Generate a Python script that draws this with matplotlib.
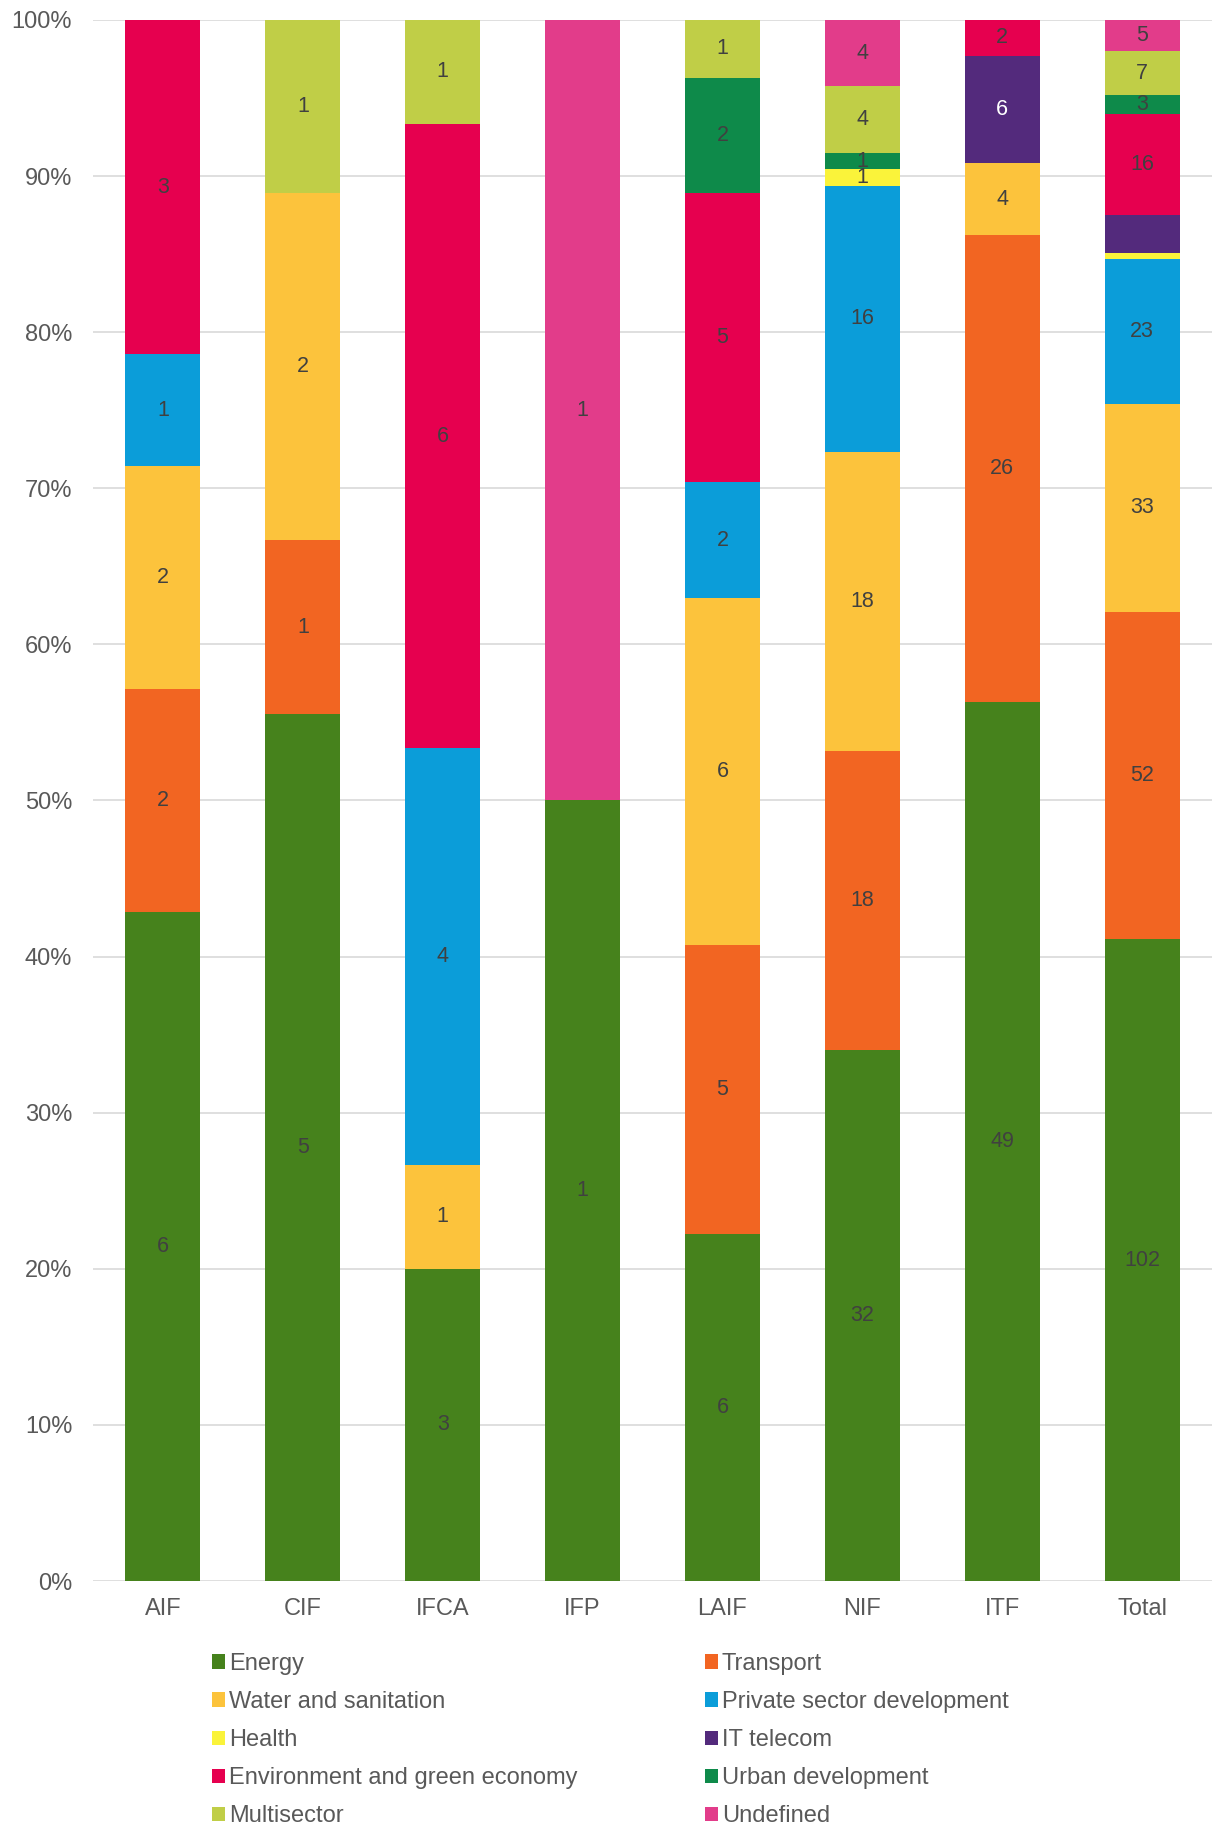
import numpy as np
import matplotlib.pyplot as plt
from matplotlib.patches import Patch

plt.rcParams['font.family'] = ['Liberation Sans', 'DejaVu Sans']

# ========== Data ==========
funds = ["AIF", "CIF", "IFCA", "IFP", "LAIF", "NIF", "ITF", "Total"]
sectors = ["Energy", "Transport", "Water and sanitation", "Private sector development",
           "Health", "IT telecom", "Environment and green economy", "Urban development",
           "Multisector", "Undefined"]
colors = ["#46821C", "#F26522", "#FCC33C", "#0B9DD9", "#FAF33A",
          "#532A7C", "#E6004F", "#0E8A4A", "#C0CE47", "#E23C8A"]

# project counts per sector (rows) and fund (columns)
energy = [6, 5, 3, 1, 6, 32, 49, 102]
transport = [2, 1, 0, 0, 5, 18, 26, 52]
water = [2, 2, 1, 0, 6, 18, 4, 33]
private = [1, 0, 4, 0, 2, 16, 0, 23]
health = [0, 0, 0, 0, 0, 1, 0, 1]
it_telecom = [0, 0, 0, 0, 0, 0, 6, 6]
environment = [3, 0, 6, 0, 5, 0, 2, 16]
urban = [0, 0, 0, 0, 2, 1, 0, 3]
multisector = [0, 1, 1, 0, 1, 4, 0, 7]
undefined = [0, 0, 0, 1, 0, 4, 0, 5]

counts = np.array([energy, transport, water, private, health, it_telecom,
                   environment, urban, multisector, undefined], dtype=float)

# labels that the original chart does not show
hidden = {("Total", "Health"), ("Total", "IT telecom")}

share = counts / counts.sum(axis=0) * 100

fig = plt.figure(figsize=(12.19, 18.28), dpi=100)
ax = fig.add_axes([0.0763, 0.1351, 0.9180, 0.8540])

x = np.arange(len(funds))
bottom = np.zeros(len(funds))
for i, sector in enumerate(sectors):
    ax.bar(x, share[i], width=0.536, bottom=bottom, color=colors[i],
           label=sector, zorder=3)
    for j, fund in enumerate(funds):
        if counts[i, j] == 0 or (fund, sector) in hidden:
            continue
        txt_color = "white" if sector == "IT telecom" else "#404040"
        ax.text(x[j], bottom[j] + share[i, j] / 2, f"{int(counts[i, j])}",
                ha="center", va="center", fontsize=15.5, color=txt_color, zorder=4)
    bottom += share[i]

ax.set_xlim(-0.5, len(funds) - 0.5)
ax.set_ylim(0, 100)
ax.set_yticks(range(0, 101, 10))
ax.set_yticklabels([f"{t}%" for t in range(0, 101, 10)])
ax.set_xticks(x)
ax.set_xticklabels(funds)
ax.tick_params(axis="y", length=0, pad=15, labelsize=17, labelcolor="#595959")
ax.tick_params(axis="x", length=0, pad=12, labelsize=17, labelcolor="#595959")
for s in ax.spines.values():
    s.set_visible(False)
ax.grid(axis="y", color="#D9D9D9", linewidth=1.2, zorder=0)
ax.set_axisbelow(True)

# legend: two columns, filled row by row like the original
order = [0, 2, 4, 6, 8, 1, 3, 5, 7, 9]
handles = [Patch(facecolor=colors[k], label=sectors[k]) for k in order]
fig.legend(handles=handles, loc="upper left", bbox_to_anchor=(0.1739, 0.0958),
           ncol=2, frameon=False, fontsize=17, labelcolor="#595959",
           handlelength=0.55, handleheight=0.55, handletextpad=0.17,
           columnspacing=5.4, labelspacing=0.68, borderpad=0, borderaxespad=0)

fig.savefig("out.png", dpi=100)
